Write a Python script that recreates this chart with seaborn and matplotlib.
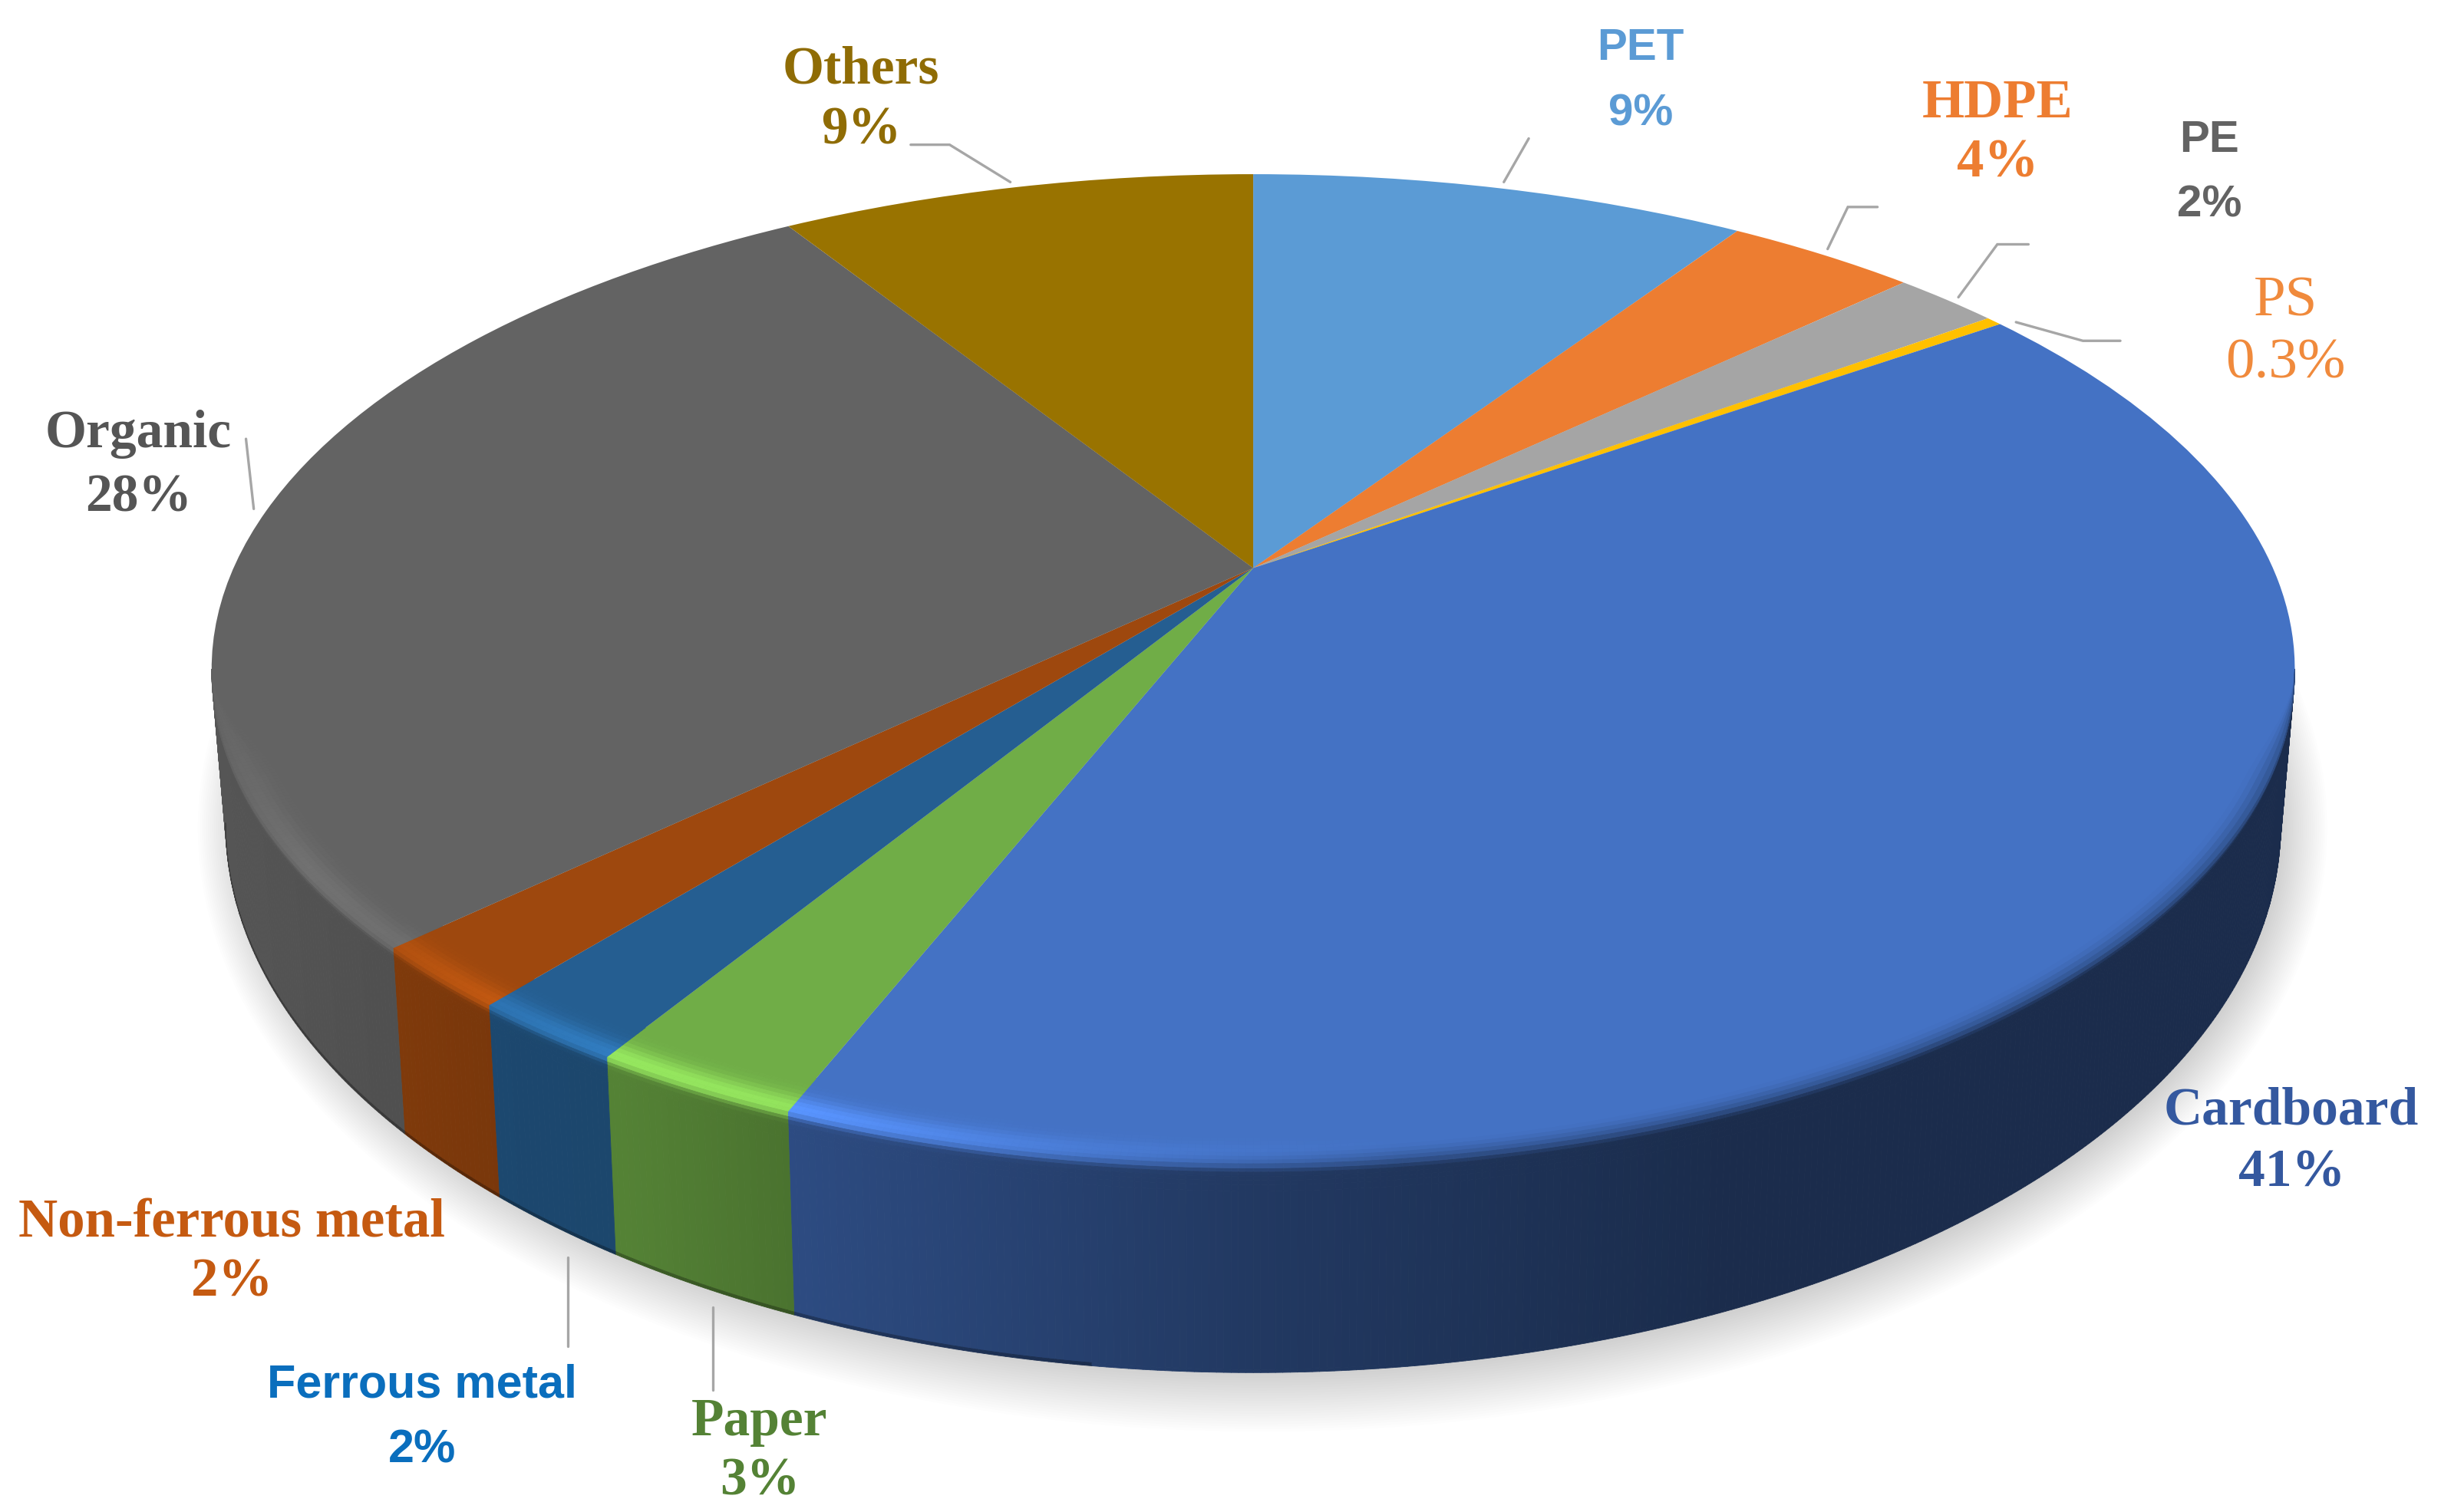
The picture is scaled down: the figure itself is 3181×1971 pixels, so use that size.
import numpy as np
import matplotlib
matplotlib.use("Agg")
import matplotlib.pyplot as plt
import matplotlib.transforms as mtransforms
from matplotlib.collections import PolyCollection
import seaborn as sns
import logging
logging.getLogger("matplotlib.font_manager").setLevel(logging.ERROR)

# ---------- data ----------
categories = ["PET", "HDPE", "PE", "PS", "Cardboard", "Paper",
              "Ferrous metal", "Non-ferrous metal", "Organic", "Others"]
values = [9.4, 3.6, 2, 0.3, 40.9, 2.75, 2.1, 2.05, 28.2, 9]
percent_labels = ["9%", "4%", "2%", "0.3%", "41%", "3%", "2%", "2%", "28%", "9%"]
slice_colors = ["#5B9BD5", "#ED7D31", "#A5A5A5", "#FFC000", "#4472C4",
                "#70AD47", "#255E91", "#9E480E", "#636363", "#997300"]

# ---------- layout (positions in the 1568-wide frame, scaled below) ----------
W, H = 3181, 1971
S = W / 1568
label_xy = [(1054, 31, 73), (1283, 67, 105), (1419, 90, 132), (1468, 194, 234),
            (1472, 714, 754), (488, 914, 952), (271, 890, 932), (149, 786, 824),
            (89, 279, 320), (553, 45, 84)]
label_color = ["#5B9BD5", "#ED7D31", "#636363", "#F08A3C", "#34589F",
               "#548235", "#0A6EBD", "#C55A11", "#555555", "#8F6C05"]
serif = ["Liberation Serif"]
sans = ["Liberation Sans"]
label_font = [sans, serif, sans, serif, serif, serif, sans, serif, serif, serif]
label_size = [42, 51, 42, 54, 50, 50, 44, 51, 50, 50]
leaders = [[(966, 117), (982, 89)],
           [(1174, 160), (1187, 133), (1206, 133)],
           [(1258, 191), (1283, 157), (1303, 157)],
           [(1295, 207), (1338, 219), (1362, 219)],
           [(649, 117), (610, 93), (585, 93)],
           [(163, 327), (158, 282)],
           [(365, 808), (365, 865)],
           [(458, 840), (458, 893)]]

# top-face perspective
CX, CY = 805 * S, 365 * S
A, B, K = 655 * S, 304.7 * S, 0.204
# wall bottom ellipse
BW, BH, BCY = 660 * S, 352 * S, 530 * S
RIM_W = A / np.sqrt(1 - K ** 2)


def persp(u, v):
    d = 1 + K * v
    return CX + A * u / d, CY - B * v / d


def bottom(x):
    xb = (x - CX) * BW / RIM_W
    return CX + xb, BCY + BH * np.sqrt(np.clip(1 - (xb / BW) ** 2, 0, 1))


class Persp(mtransforms.Transform):
    input_dims = output_dims = 2
    is_affine = False
    has_inverse = False

    def transform_non_affine(self, xy):
        xy = np.asarray(xy, float)
        X, Y = persp(xy[:, 0], xy[:, 1])
        return np.column_stack([X, Y])


sns.set_theme(style="white")
palette = sns.color_palette(slice_colors)

fig = plt.figure(figsize=(W / 100, H / 100), dpi=100, facecolor="white")
ax = fig.add_axes([0, 0, 1, 1])

wedges, _ = ax.pie(values, colors=palette, startangle=90, counterclock=False,
                   wedgeprops=dict(linewidth=0))
ax.set_aspect("auto")
ax.set_xlim(0, W)
ax.set_ylim(H, 0)
ax.axis("off")
for w in wedges:
    w.set_transform(Persp() + ax.transData)
    w.set_zorder(3)

# ---------- soft shadow under the disc ----------
tt = np.linspace(0, 2 * np.pi, 361)
for i in range(24):
    f = i / 23
    sx = BW + (24 - 30 * f) * S
    sy = BH + (36 - 38 * f) * S
    ax.fill(CX + 6 * S + sx * np.cos(tt), BCY + 2 * S + sy * np.sin(tt), color="black",
            alpha=0.0062, lw=0, zorder=1)

# ---------- wall and bevel ----------
x_keys = np.array([135, 260, 330, 400, 510, 800, 1100, 1473]) * S
wall_k = [.86, .80, .76, .75, .66, .50, .39, .39]
x_hi = np.array([135, 200, 255, 320, 400, 510, 700, 900]) * S
hi_k = [.05, .20, .18, .30, .42, .42, .18, 0]
ARC = (-168.2, -11.8)
DELTA = 0.05


def smooth(t):
    t = np.clip(t, 0, 1)
    return t * t * (3 - 2 * t)


wall_polys, wall_cols = [], []
top_polys, top_cols = [], []
for wedge, rgb in zip(wedges, palette):
    lo, hi = max(wedge.theta1, ARC[0]), min(wedge.theta2, ARC[1])
    if hi <= lo:
        continue
    face = np.array(rgb)
    th = np.radians(np.linspace(lo, hi, max(3, int((hi - lo) * 3) + 1)))
    cs, sn = np.cos(th), np.sin(th)
    fade = smooth((-K - sn) / 0.22)
    rx, ry = persp(cs, sn)
    bx, by = bottom(rx)

    def face_pt(q):  # q in 0..1: inner edge of bevel -> rim
        r = 1 - DELTA * fade * (1 - q)
        return persp(r * cs, r * sn)

    def wall_pt(f):
        return rx + (bx - rx) * f, ry + (by - ry) * f

    levels = [("f", q) for q in np.linspace(0, 1, 11)] + \
             [("w", f) for f in (.02, .04, .06, .08, .10, .13, .985, 1.0)]
    pts = [face_pt(v) if t == "f" else wall_pt(v) for t, v in levels]
    qs = [v if t == "f" else 1 + v * 10 for t, v in levels]
    for j in range(len(levels) - 1):
        x0, y0 = pts[j]
        x1, y1 = pts[j + 1]
        q = 0.5 * (qs[j] + qs[j + 1])
        for n in range(len(th) - 1):
            xm = 0.5 * (x0[n] + x0[n + 1])
            wk = np.interp(xm, x_keys, wall_k)
            hk = np.interp(xm, x_hi, hi_k)
            wall = face * wk
            mix = smooth((q - 0.55) / 1.0)
            col = face * (1 - mix) + wall * mix
            col = col + face * hk * np.exp(-((q - 0.95) / 0.35) ** 2)
            if levels[j][0] == "w" and levels[j][1] >= .985:
                col = wall * (0.72 if xm < 700 * S else 1.0)
            poly = [(x0[n], y0[n]), (x0[n + 1], y0[n + 1]),
                    (x1[n + 1], y1[n + 1]), (x1[n], y1[n])]
            (top_polys if levels[j][0] == "f" else wall_polys).append(poly)
            (top_cols if levels[j][0] == "f" else wall_cols).append(np.clip(col, 0, 1))

ax.add_collection(PolyCollection(wall_polys, facecolors=wall_cols, edgecolors=wall_cols,
                                 linewidths=0.6, zorder=2))
ax.add_collection(PolyCollection(top_polys, facecolors=top_cols, edgecolors=top_cols,
                                 linewidths=0.6, zorder=4))

# ---------- leaders ----------
for seg in leaders:
    p = np.array(seg) * S
    ax.plot(p[:, 0], p[:, 1], color="#A6A6A6", lw=2.4, solid_joinstyle="miter", zorder=5)

# ---------- labels ----------
for name, pct, (x, y1, y2), c, fam, sz in zip(categories, percent_labels, label_xy,
                                              label_color, label_font, label_size):
    weight = "normal" if name == "PS" else "bold"
    for txt, y in ((name, y1), (pct, y2)):
        ax.text(x * S, y * S, txt, color=c, family=fam, fontsize=sz, weight=weight,
                ha="center", va="center", zorder=6)

fig.savefig("out.png", dpi=100, facecolor="white")
